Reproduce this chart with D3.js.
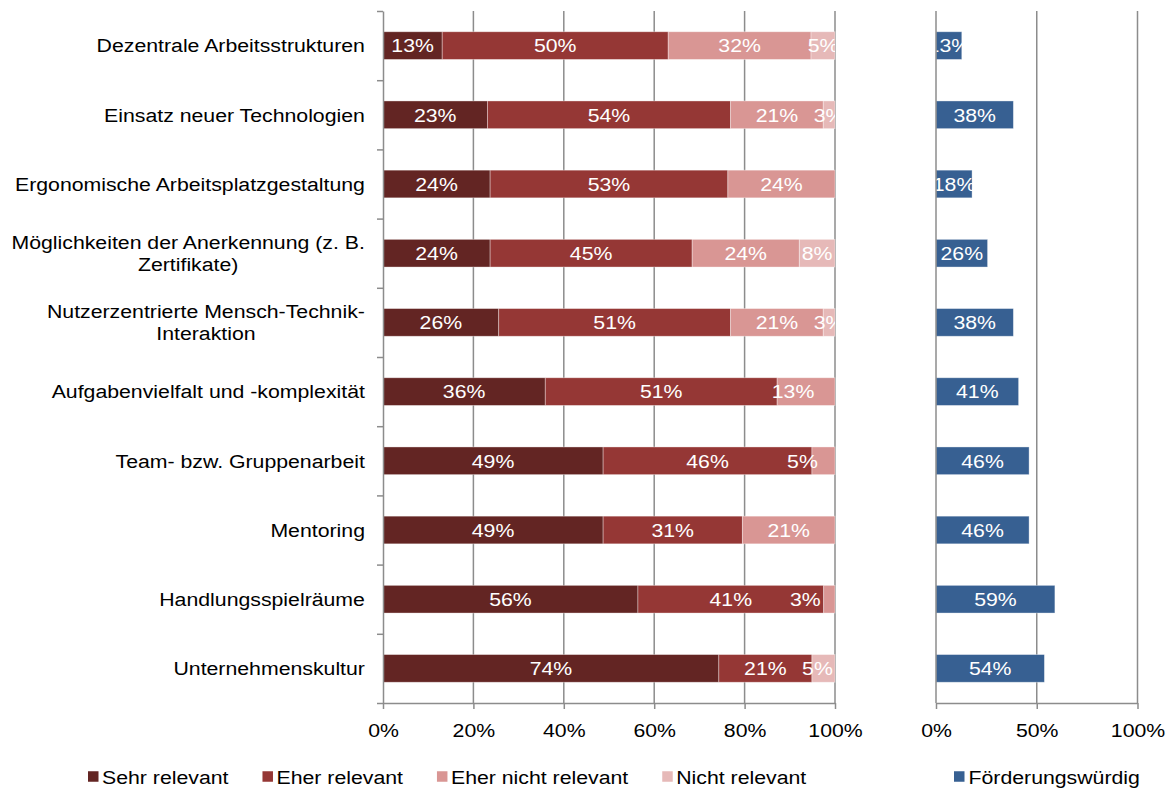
<!DOCTYPE html>
<html>
<head>
<meta charset="utf-8">
<script src="https://cdn.jsdelivr.net/npm/d3@7"></script>
<style>
  html, body { margin: 0; padding: 0; background: #fff; }
  svg { display: block; font-family: "Liberation Sans", Arial, sans-serif; }
</style>
</head>
<body>
<svg id="chart" width="1171" height="788"></svg>
<script>
// ---------- DATA ----------
const categories = [
  ["Dezentrale Arbeitsstrukturen"],
  ["Einsatz neuer Technologien"],
  ["Ergonomische Arbeitsplatzgestaltung"],
  ["Möglichkeiten der Anerkennung (z. B.", "Zertifikate)"],
  ["Nutzerzentrierte Mensch-Technik-", "Interaktion"],
  ["Aufgabenvielfalt und -komplexität"],
  ["Team- bzw. Gruppenarbeit"],
  ["Mentoring"],
  ["Handlungsspielräume"],
  ["Unternehmenskultur"]
];
const seriesNames = ["Sehr relevant", "Eher relevant", "Eher nicht relevant", "Nicht relevant"];
const sehrRelevant      = [13.1, 23.1, 23.7, 23.7, 25.6, 35.9, 48.7, 48.7, 56.4, 74.3];
const eherRelevant      = [50.0, 53.8, 52.6, 44.7, 51.3, 51.3, 46.2, 30.8, 41.1, 20.6];
const eherNichtRelevant = [31.6, 20.5, 23.7, 23.7, 20.5, 12.8, 5.1, 20.5, 2.5, 0];
const nichtRelevant     = [5.3, 2.6, 0, 7.9, 2.6, 0, 0, 0, 0, 5.1];
const foerderName = "Förderungswürdig";
const foerderungswuerdig = [12.8, 38.4, 17.9, 25.6, 38.4, 41.0, 46.2, 46.2, 59.0, 53.8];
const leftTicks = [0, 20, 40, 60, 80, 100];
const rightTicks = [0, 50, 100];

// ---------- STYLE ----------
const colors = ["#632523", "#953735", "#d99694", "#e6b9b8"];
const blue = "#376092";
const gridColor = "#8c8c8c";
const FS = 19, SX = 1.12;
// manual data-label nudges seen in the original (row-series -> px)
const labelNudge = { "5-2": -13, "6-2": -21, "8-2": -24, "9-3": -6 };

const svg = d3.select("#chart");
const plotTop = 11, plotBottom = 703;
const xL = d3.scaleLinear().domain([0, 100]).range([383, 835]);
const xR = d3.scaleLinear().domain([0, 100]).range([936, 1137.5]);
const idx = d3.range(categories.length);
const y = d3.scaleBand().domain(idx).range([plotTop, plotBottom]).paddingInner(0.6).paddingOuter(0.3);
const yB = d3.scaleLinear().domain([0, categories.length]).range([plotTop, plotBottom]);

const defs = svg.append("defs");
defs.append("clipPath").attr("id", "clipL").append("rect")
  .attr("x", xL(0)).attr("y", plotTop).attr("width", xL(100) - xL(0)).attr("height", plotBottom - plotTop);
defs.append("clipPath").attr("id", "clipR").append("rect")
  .attr("x", xR(0)).attr("y", plotTop).attr("width", xR(100) - xR(0)).attr("height", plotBottom - plotTop);

// ---------- LEFT PANEL ----------
svg.append("g").selectAll("line").data(leftTicks.slice(1)).join("line")
  .attr("x1", d => xL(d)).attr("x2", d => xL(d))
  .attr("y1", plotTop).attr("y2", plotBottom)
  .attr("stroke", gridColor).attr("stroke-width", 1.5);

const stackData = idx.map(i => ({ i, vals: [sehrRelevant[i], eherRelevant[i], eherNichtRelevant[i], nichtRelevant[i]] }));
const stack = d3.stack().keys([0, 1, 2, 3]).value((d, k) => d.vals[k]);
const layers = stack(stackData);

const gBars = svg.append("g");
layers.forEach((layer, k) => {
  gBars.append("g").selectAll("rect").data(layer).join("rect")
    .attr("x", d => xL(d[0]))
    .attr("width", d => xL(d[1]) - xL(d[0]))
    .attr("y", d => y(d.data.i))
    .attr("height", y.bandwidth())
    .attr("fill", colors[k])
    .attr("stroke", "#ffffff").attr("stroke-opacity", 0.45).attr("stroke-width", 0.8);
});
const gLab = svg.append("g").attr("clip-path", "url(#clipL)");
layers.forEach((layer, k) => {
  gLab.append("g").selectAll("text").data(layer.filter(d => d[1] - d[0] > 0)).join("text")
    .attr("transform", d => {
      const nx = labelNudge[d.data.i + "-" + k] || 0;
      return `translate(${(xL(d[0]) + xL(d[1])) / 2 + nx},${y(d.data.i) + y.bandwidth() / 2}) scale(${SX},1)`;
    })
    .attr("text-anchor", "middle").attr("dy", "0.36em")
    .attr("font-size", FS).attr("fill", "#fff")
    .text(d => Math.round(d[1] - d[0]) + "%");
});

const axL = svg.append("g").attr("transform", `translate(0,${plotBottom})`)
  .call(d3.axisBottom(xL).tickValues(leftTicks).tickFormat(d => d + "%").tickSize(6).tickSizeOuter(0));
axL.select(".domain").attr("stroke", gridColor).attr("stroke-width", 1.5);
axL.selectAll(".tick line").attr("stroke", gridColor).attr("stroke-width", 1.5);
axL.selectAll(".tick text").attr("y", 34).attr("dy", 0).attr("font-size", FS).attr("fill", "#000")
  .attr("font-family", "Liberation Sans, Arial, sans-serif").attr("transform", `scale(${SX},1)`);

const ayL = svg.append("g").attr("transform", `translate(${xL(0)},0)`)
  .call(d3.axisLeft(yB).tickValues(d3.range(categories.length + 1)).tickFormat("").tickSize(6).tickSizeOuter(0));
ayL.select(".domain").attr("stroke", gridColor).attr("stroke-width", 1.5);
ayL.selectAll(".tick line").attr("stroke", gridColor).attr("stroke-width", 1.5);

// category labels
const labelRight = 365, lineH = 22;
const gCat = svg.append("g");
categories.forEach((lines, i) => {
  const cy = y(i) + y.bandwidth() / 2;
  const g = gCat.append("g");
  const texts = lines.map(ln => g.append("text")
    .attr("font-size", FS).attr("fill", "#000").attr("text-anchor", "middle").attr("dy", "0.36em")
    .text(ln));
  const widths = texts.map(t => t.node().getComputedTextLength() * SX);
  const maxW = d3.max(widths);
  const cx = labelRight - maxW / 2;
  texts.forEach((t, j) => {
    const ly = cy + (j - (lines.length - 1) / 2) * lineH;
    t.attr("transform", `translate(${cx},${ly}) scale(${SX},1)`);
  });
});

// ---------- RIGHT PANEL ----------
svg.append("g").selectAll("line").data(rightTicks.slice(1)).join("line")
  .attr("x1", d => xR(d)).attr("x2", d => xR(d))
  .attr("y1", plotTop).attr("y2", plotBottom)
  .attr("stroke", gridColor).attr("stroke-width", 1.5);

svg.append("g").selectAll("rect").data(idx).join("rect")
  .attr("x", xR(0)).attr("y", i => y(i))
  .attr("width", i => xR(foerderungswuerdig[i]) - xR(0))
  .attr("height", y.bandwidth())
  .attr("fill", blue)
  .attr("stroke", "#ffffff").attr("stroke-opacity", 0.45).attr("stroke-width", 0.8);

svg.append("g").attr("clip-path", "url(#clipR)").selectAll("text").data(idx).join("text")
  .attr("transform", i => `translate(${(xR(0) + xR(foerderungswuerdig[i])) / 2},${y(i) + y.bandwidth() / 2}) scale(${SX},1)`)
  .attr("text-anchor", "middle").attr("dy", "0.36em")
  .attr("font-size", FS).attr("fill", "#fff")
  .text(i => Math.round(foerderungswuerdig[i]) + "%");

const axR = svg.append("g").attr("transform", `translate(0,${plotBottom})`)
  .call(d3.axisBottom(xR).tickValues(rightTicks).tickFormat(d => d + "%").tickSize(6).tickSizeOuter(0));
axR.select(".domain").attr("stroke", gridColor).attr("stroke-width", 1.5);
axR.selectAll(".tick line").attr("stroke", gridColor).attr("stroke-width", 1.5);
axR.selectAll(".tick text").attr("y", 34).attr("dy", 0).attr("font-size", FS).attr("fill", "#000")
  .attr("font-family", "Liberation Sans, Arial, sans-serif").attr("transform", `scale(${SX},1)`);

svg.append("line").attr("x1", xR(0)).attr("x2", xR(0)).attr("y1", plotTop).attr("y2", plotBottom)
  .attr("stroke", gridColor).attr("stroke-width", 1.5);

// ---------- LEGENDS ----------
const legY = 777, sw = 10.5;
let lx = 88;
const gLeg = svg.append("g");
seriesNames.forEach((name, k) => {
  gLeg.append("rect").attr("x", lx).attr("y", legY - sw / 2 - 0.5).attr("width", sw).attr("height", sw).attr("fill", colors[k]);
  const t = gLeg.append("text").attr("font-size", FS).attr("fill", "#000").attr("dy", "0.36em").text(name);
  const tx = lx + sw + 3.5;
  t.attr("transform", `translate(${tx},${legY}) scale(${SX},1)`);
  lx = tx + t.node().getComputedTextLength() * SX + 34;
});
const rx = 954;
gLeg.append("rect").attr("x", rx).attr("y", legY - sw / 2 - 0.5).attr("width", sw).attr("height", sw).attr("fill", blue);
gLeg.append("text").attr("font-size", FS).attr("fill", "#000").attr("dy", "0.36em")
  .attr("transform", `translate(${rx + sw + 4},${legY}) scale(${SX},1)`).text(foerderName);
</script>
</body>
</html>
